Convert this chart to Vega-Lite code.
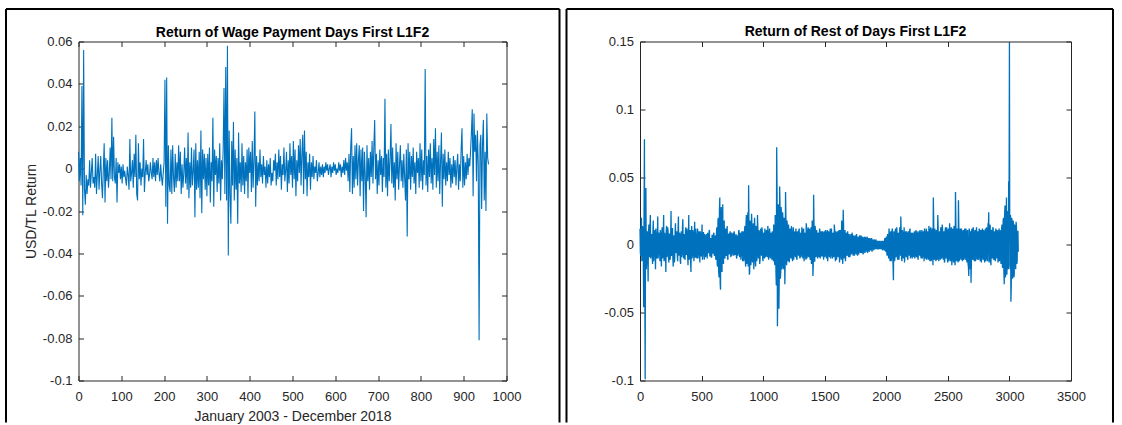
{
"$schema": "https://vega.github.io/schema/vega-lite/v6.json",
"background": "#ffffff",
"padding": {"left": 4.5, "top": 6.5, "right": 0, "bottom": 0},
"config": {
  "view": {"stroke": "#262626", "strokeWidth": 1},
  "font": "Liberation Sans",
  "axis": {"labelFont": "Liberation Sans", "labelFontSize": 13, "labelColor": "#262626", "titleFont": "Liberation Sans", "titleFontSize": 14, "titleFontWeight": "normal", "titleColor": "#262626", "tickColor": "#262626", "tickWidth": 1, "labelOverlap": false, "labelFlush": false, "labelBound": false, "grid": false, "domain": false}
},
"datasets": {
"wage": [
{"i":0,"r":0.008},{"i":2,"r":-0.006},{"i":4,"r":0.005},{"i":6,"r":-0.008},{"i":8,"r":0.039},{"i":10,"r":-0.022},{"i":12,"r":0.056},{"i":14,"r":-0.010},{"i":16,"r":-0.017},{"i":18,"r":-0.003},
{"i":20,"r":-0.012},{"i":22,"r":-0.005},{"i":24,"r":-0.008},{"i":26,"r":0.004},{"i":28,"r":-0.009},{"i":30,"r":-0.002},{"i":32,"r":0.005},{"i":34,"r":-0.007},{"i":36,"r":-0.004},{"i":38,"r":-0.009},
{"i":40,"r":0.007},{"i":42,"r":-0.012},{"i":44,"r":-0.003},{"i":46,"r":0.006},{"i":48,"r":-0.010},{"i":50,"r":-0.001},{"i":52,"r":0.006},{"i":54,"r":-0.007},{"i":56,"r":-0.014},{"i":58,"r":0.000},
{"i":60,"r":0.012},{"i":62,"r":-0.016},{"i":64,"r":0.005},{"i":66,"r":-0.006},{"i":68,"r":0.004},{"i":70,"r":-0.009},{"i":72,"r":-0.002},{"i":74,"r":0.010},{"i":76,"r":-0.005},{"i":78,"r":0.024},
{"i":80,"r":-0.006},{"i":82,"r":0.015},{"i":84,"r":-0.004},{"i":86,"r":-0.007},{"i":88,"r":0.005},{"i":90,"r":-0.016},{"i":92,"r":0.003},{"i":94,"r":-0.002},{"i":96,"r":0.002},{"i":98,"r":-0.005},
{"i":100,"r":0.001},{"i":102,"r":-0.007},{"i":104,"r":0.002},{"i":106,"r":-0.004},{"i":108,"r":-0.001},{"i":110,"r":-0.005},{"i":112,"r":-0.008},{"i":114,"r":0.001},{"i":116,"r":-0.003},{"i":118,"r":-0.010},
{"i":120,"r":0.014},{"i":122,"r":-0.006},{"i":124,"r":-0.002},{"i":126,"r":0.004},{"i":128,"r":-0.009},{"i":130,"r":0.007},{"i":132,"r":-0.004},{"i":134,"r":0.016},{"i":136,"r":-0.012},{"i":138,"r":-0.015},
{"i":140,"r":0.012},{"i":142,"r":-0.005},{"i":144,"r":0.003},{"i":146,"r":-0.008},{"i":148,"r":0.000},{"i":150,"r":-0.004},{"i":152,"r":0.014},{"i":154,"r":-0.011},{"i":156,"r":-0.002},{"i":158,"r":0.004},
{"i":160,"r":-0.003},{"i":162,"r":0.002},{"i":164,"r":-0.006},{"i":166,"r":-0.003},{"i":168,"r":0.003},{"i":170,"r":-0.002},{"i":172,"r":-0.005},{"i":174,"r":0.005},{"i":176,"r":-0.004},{"i":178,"r":0.003},
{"i":180,"r":-0.006},{"i":182,"r":0.004},{"i":184,"r":-0.003},{"i":186,"r":0.005},{"i":188,"r":-0.002},{"i":190,"r":-0.006},{"i":192,"r":0.002},{"i":194,"r":-0.004},{"i":196,"r":-0.008},{"i":198,"r":-0.002},
{"i":200,"r":0.003},{"i":202,"r":0.042},{"i":204,"r":-0.018},{"i":206,"r":0.043},{"i":208,"r":-0.026},{"i":210,"r":0.011},{"i":212,"r":-0.008},{"i":214,"r":-0.011},{"i":216,"r":0.009},{"i":218,"r":-0.012},
{"i":220,"r":0.011},{"i":222,"r":-0.004},{"i":224,"r":-0.011},{"i":226,"r":0.007},{"i":228,"r":-0.009},{"i":230,"r":0.003},{"i":232,"r":-0.006},{"i":234,"r":0.011},{"i":236,"r":-0.006},{"i":238,"r":0.008},
{"i":240,"r":-0.012},{"i":242,"r":0.002},{"i":244,"r":-0.009},{"i":246,"r":-0.002},{"i":248,"r":0.010},{"i":250,"r":-0.007},{"i":252,"r":0.005},{"i":254,"r":-0.010},{"i":256,"r":0.017},{"i":258,"r":-0.014},
{"i":260,"r":0.003},{"i":262,"r":-0.009},{"i":264,"r":0.010},{"i":266,"r":-0.008},{"i":268,"r":-0.001},{"i":270,"r":0.009},{"i":272,"r":-0.023},{"i":274,"r":0.012},{"i":276,"r":-0.010},{"i":278,"r":0.004},
{"i":280,"r":-0.009},{"i":282,"r":0.008},{"i":284,"r":-0.014},{"i":286,"r":0.018},{"i":288,"r":-0.021},{"i":290,"r":0.009},{"i":292,"r":-0.005},{"i":294,"r":0.007},{"i":296,"r":-0.010},{"i":298,"r":0.005},
{"i":300,"r":-0.013},{"i":302,"r":0.007},{"i":304,"r":-0.008},{"i":306,"r":0.010},{"i":308,"r":-0.016},{"i":310,"r":0.003},{"i":312,"r":-0.006},{"i":314,"r":0.024},{"i":316,"r":-0.018},{"i":318,"r":0.009},
{"i":320,"r":-0.003},{"i":322,"r":0.006},{"i":324,"r":-0.011},{"i":326,"r":0.005},{"i":328,"r":-0.007},{"i":330,"r":0.012},{"i":332,"r":-0.015},{"i":334,"r":0.004},{"i":336,"r":-0.005},{"i":338,"r":0.009},
{"i":340,"r":0.038},{"i":342,"r":-0.012},{"i":344,"r":0.048},{"i":346,"r":-0.015},{"i":348,"r":0.058},{"i":350,"r":-0.041},{"i":352,"r":0.018},{"i":354,"r":-0.012},{"i":356,"r":-0.026},{"i":358,"r":0.013},
{"i":360,"r":-0.008},{"i":362,"r":0.022},{"i":364,"r":-0.015},{"i":366,"r":0.009},{"i":368,"r":-0.010},{"i":370,"r":0.005},{"i":372,"r":-0.026},{"i":374,"r":0.017},{"i":376,"r":-0.007},{"i":378,"r":0.003},
{"i":380,"r":-0.011},{"i":382,"r":0.012},{"i":384,"r":-0.008},{"i":386,"r":0.006},{"i":388,"r":-0.012},{"i":390,"r":0.003},{"i":392,"r":-0.006},{"i":394,"r":0.009},{"i":396,"r":-0.014},{"i":398,"r":0.010},
{"i":400,"r":-0.002},{"i":402,"r":0.008},{"i":404,"r":-0.011},{"i":406,"r":0.013},{"i":408,"r":-0.009},{"i":410,"r":0.004},{"i":412,"r":0.027},{"i":414,"r":-0.018},{"i":416,"r":0.006},{"i":418,"r":-0.008},
{"i":420,"r":0.003},{"i":422,"r":-0.006},{"i":424,"r":0.009},{"i":426,"r":-0.004},{"i":428,"r":0.002},{"i":430,"r":-0.007},{"i":432,"r":0.006},{"i":434,"r":-0.003},{"i":436,"r":0.001},{"i":438,"r":-0.009},
{"i":440,"r":0.004},{"i":442,"r":-0.007},{"i":444,"r":0.002},{"i":446,"r":-0.004},{"i":448,"r":0.005},{"i":450,"r":-0.008},{"i":452,"r":-0.002},{"i":454,"r":-0.006},{"i":456,"r":0.004},{"i":458,"r":-0.001},
{"i":460,"r":0.007},{"i":462,"r":-0.008},{"i":464,"r":0.003},{"i":466,"r":-0.005},{"i":468,"r":0.009},{"i":470,"r":-0.004},{"i":472,"r":0.006},{"i":474,"r":-0.010},{"i":476,"r":0.002},{"i":478,"r":-0.003},
{"i":480,"r":0.010},{"i":482,"r":-0.006},{"i":484,"r":-0.001},{"i":486,"r":0.008},{"i":488,"r":-0.011},{"i":490,"r":0.004},{"i":492,"r":-0.007},{"i":494,"r":0.012},{"i":496,"r":-0.003},{"i":498,"r":0.006},
{"i":500,"r":-0.009},{"i":502,"r":0.013},{"i":504,"r":-0.005},{"i":506,"r":0.009},{"i":508,"r":-0.013},{"i":510,"r":0.004},{"i":512,"r":-0.006},{"i":514,"r":0.011},{"i":516,"r":-0.002},{"i":518,"r":0.014},
{"i":520,"r":-0.008},{"i":522,"r":0.007},{"i":524,"r":0.016},{"i":526,"r":-0.012},{"i":528,"r":0.018},{"i":530,"r":-0.005},{"i":532,"r":0.008},{"i":534,"r":-0.013},{"i":536,"r":0.003},{"i":538,"r":-0.004},
{"i":540,"r":0.007},{"i":542,"r":-0.010},{"i":544,"r":0.003},{"i":546,"r":-0.004},{"i":548,"r":0.006},{"i":550,"r":-0.005},{"i":552,"r":0.001},{"i":554,"r":-0.002},{"i":556,"r":0.004},{"i":558,"r":-0.006},
{"i":560,"r":-0.002},{"i":562,"r":0.003},{"i":564,"r":-0.004},{"i":566,"r":0.001},{"i":568,"r":-0.003},{"i":570,"r":0.002},{"i":572,"r":-0.004},{"i":574,"r":0.001},{"i":576,"r":-0.002},{"i":578,"r":0.003},
{"i":580,"r":-0.001},{"i":582,"r":0.002},{"i":584,"r":-0.003},{"i":586,"r":0.000},{"i":588,"r":0.002},{"i":590,"r":-0.004},{"i":592,"r":0.001},{"i":594,"r":-0.002},{"i":596,"r":0.003},{"i":598,"r":-0.001},
{"i":600,"r":0.002},{"i":602,"r":-0.003},{"i":604,"r":0.000},{"i":606,"r":-0.002},{"i":608,"r":0.003},{"i":610,"r":-0.001},{"i":612,"r":0.002},{"i":614,"r":-0.004},{"i":616,"r":0.001},{"i":618,"r":-0.002},
{"i":620,"r":0.004},{"i":622,"r":-0.003},{"i":624,"r":0.005},{"i":626,"r":-0.001},{"i":628,"r":0.003},{"i":630,"r":-0.006},{"i":632,"r":0.007},{"i":634,"r":-0.011},{"i":636,"r":0.010},{"i":638,"r":0.019},
{"i":640,"r":-0.012},{"i":642,"r":0.006},{"i":644,"r":-0.009},{"i":646,"r":0.011},{"i":648,"r":-0.005},{"i":650,"r":0.012},{"i":652,"r":-0.008},{"i":654,"r":0.004},{"i":656,"r":0.011},{"i":658,"r":-0.013},
{"i":660,"r":0.009},{"i":662,"r":-0.006},{"i":664,"r":0.010},{"i":666,"r":-0.020},{"i":668,"r":0.008},{"i":670,"r":-0.003},{"i":672,"r":-0.023},{"i":674,"r":0.011},{"i":676,"r":-0.006},{"i":678,"r":0.005},
{"i":680,"r":-0.010},{"i":682,"r":0.008},{"i":684,"r":-0.004},{"i":686,"r":0.013},{"i":688,"r":-0.007},{"i":690,"r":0.010},{"i":692,"r":0.023},{"i":694,"r":-0.005},{"i":696,"r":0.007},{"i":698,"r":-0.012},
{"i":700,"r":0.004},{"i":702,"r":-0.008},{"i":704,"r":0.009},{"i":706,"r":-0.003},{"i":708,"r":0.006},{"i":710,"r":-0.011},{"i":712,"r":0.005},{"i":714,"r":-0.004},{"i":716,"r":0.033},{"i":718,"r":-0.009},
{"i":720,"r":0.007},{"i":722,"r":-0.013},{"i":724,"r":0.009},{"i":726,"r":-0.006},{"i":728,"r":0.004},{"i":730,"r":0.021},{"i":732,"r":-0.007},{"i":734,"r":0.010},{"i":736,"r":-0.009},{"i":738,"r":0.003},
{"i":740,"r":-0.015},{"i":742,"r":0.012},{"i":744,"r":-0.005},{"i":746,"r":0.008},{"i":748,"r":-0.010},{"i":750,"r":0.002},{"i":752,"r":0.011},{"i":754,"r":-0.006},{"i":756,"r":0.004},{"i":758,"r":-0.009},
{"i":760,"r":0.007},{"i":762,"r":-0.004},{"i":764,"r":-0.015},{"i":766,"r":0.009},{"i":768,"r":-0.032},{"i":770,"r":0.012},{"i":772,"r":-0.005},{"i":774,"r":0.008},{"i":776,"r":-0.010},{"i":778,"r":0.006},
{"i":780,"r":-0.004},{"i":782,"r":0.010},{"i":784,"r":-0.007},{"i":786,"r":0.003},{"i":788,"r":-0.012},{"i":790,"r":0.008},{"i":792,"r":-0.002},{"i":794,"r":0.005},{"i":796,"r":-0.009},{"i":798,"r":0.012},
{"i":800,"r":-0.006},{"i":802,"r":0.009},{"i":804,"r":-0.010},{"i":806,"r":0.004},{"i":808,"r":-0.003},{"i":810,"r":0.047},{"i":812,"r":-0.008},{"i":814,"r":0.006},{"i":816,"r":-0.011},{"i":818,"r":0.009},
{"i":820,"r":-0.004},{"i":822,"r":0.012},{"i":824,"r":-0.007},{"i":826,"r":0.005},{"i":828,"r":-0.010},{"i":830,"r":0.014},{"i":832,"r":-0.003},{"i":834,"r":0.019},{"i":836,"r":-0.009},{"i":838,"r":0.008},
{"i":840,"r":-0.006},{"i":842,"r":0.011},{"i":844,"r":-0.012},{"i":846,"r":0.004},{"i":848,"r":0.017},{"i":850,"r":-0.018},{"i":852,"r":0.007},{"i":854,"r":-0.005},{"i":856,"r":0.009},{"i":858,"r":-0.008},
{"i":860,"r":0.003},{"i":862,"r":-0.006},{"i":864,"r":0.008},{"i":866,"r":-0.003},{"i":868,"r":0.005},{"i":870,"r":-0.009},{"i":872,"r":0.002},{"i":874,"r":-0.007},{"i":876,"r":0.006},{"i":878,"r":-0.004},
{"i":880,"r":0.004},{"i":882,"r":-0.008},{"i":884,"r":0.001},{"i":886,"r":0.007},{"i":888,"r":-0.010},{"i":890,"r":0.002},{"i":892,"r":-0.006},{"i":894,"r":0.009},{"i":896,"r":0.019},{"i":898,"r":-0.009},
{"i":900,"r":0.006},{"i":902,"r":-0.008},{"i":904,"r":0.003},{"i":906,"r":-0.005},{"i":908,"r":0.007},{"i":910,"r":-0.003},{"i":912,"r":0.005},{"i":914,"r":0.001},{"i":916,"r":0.008},{"i":918,"r":0.017},
{"i":920,"r":0.028},{"i":922,"r":-0.013},{"i":924,"r":0.026},{"i":926,"r":0.008},{"i":928,"r":0.016},{"i":930,"r":-0.006},{"i":932,"r":0.018},{"i":934,"r":0.002},{"i":936,"r":-0.081},{"i":938,"r":0.011},
{"i":940,"r":0.016},{"i":942,"r":-0.019},{"i":944,"r":0.012},{"i":946,"r":0.023},{"i":948,"r":-0.015},{"i":950,"r":0.008},{"i":952,"r":-0.020},{"i":954,"r":0.026},{"i":956,"r":0.005},{"i":958,"r":0.002}
],
"rest": [
{"i":0,"r":0.012},{"i":6,"r":-0.008},{"i":12,"r":0.020},{"i":18,"r":-0.010},{"i":24,"r":0.009},{"i":30,"r":-0.046},{"i":36,"r":0.078},{"i":42,"r":-0.099},{"i":48,"r":0.042},{"i":54,"r":-0.012},
{"i":60,"r":0.010},{"i":66,"r":-0.027},{"i":72,"r":0.015},{"i":78,"r":-0.009},{"i":84,"r":0.022},{"i":90,"r":-0.006},{"i":96,"r":0.008},{"i":102,"r":-0.014},{"i":108,"r":0.018},{"i":114,"r":-0.007},
{"i":120,"r":0.011},{"i":126,"r":-0.018},{"i":132,"r":0.006},{"i":138,"r":-0.010},{"i":144,"r":0.021},{"i":150,"r":-0.005},{"i":156,"r":0.009},{"i":162,"r":-0.012},{"i":168,"r":0.007},{"i":174,"r":-0.016},
{"i":180,"r":0.013},{"i":186,"r":-0.008},{"i":192,"r":0.022},{"i":198,"r":-0.011},{"i":204,"r":0.005},{"i":210,"r":-0.020},{"i":216,"r":0.014},{"i":222,"r":-0.006},{"i":228,"r":0.010},{"i":234,"r":-0.013},
{"i":240,"r":0.008},{"i":246,"r":-0.009},{"i":252,"r":0.025},{"i":258,"r":-0.007},{"i":264,"r":0.012},{"i":270,"r":-0.016},{"i":276,"r":0.006},{"i":282,"r":-0.010},{"i":288,"r":0.016},{"i":294,"r":-0.005},
{"i":300,"r":0.009},{"i":306,"r":-0.012},{"i":312,"r":0.021},{"i":318,"r":-0.008},{"i":324,"r":0.007},{"i":330,"r":-0.014},{"i":336,"r":0.010},{"i":342,"r":-0.006},{"i":348,"r":0.019},{"i":354,"r":-0.010},
{"i":360,"r":0.006},{"i":366,"r":-0.011},{"i":372,"r":0.013},{"i":378,"r":-0.007},{"i":384,"r":0.009},{"i":390,"r":-0.015},{"i":396,"r":0.022},{"i":402,"r":-0.008},{"i":408,"r":0.011},{"i":414,"r":-0.020},
{"i":420,"r":0.014},{"i":426,"r":-0.006},{"i":432,"r":0.008},{"i":438,"r":-0.012},{"i":444,"r":0.017},{"i":450,"r":-0.009},{"i":456,"r":0.006},{"i":462,"r":-0.010},{"i":468,"r":0.012},{"i":474,"r":-0.005},
{"i":480,"r":0.010},{"i":486,"r":-0.013},{"i":492,"r":0.007},{"i":498,"r":-0.008},{"i":504,"r":0.015},{"i":510,"r":-0.006},{"i":516,"r":0.009},{"i":522,"r":-0.011},{"i":528,"r":0.005},{"i":534,"r":-0.007},
{"i":540,"r":0.008},{"i":546,"r":-0.010},{"i":552,"r":0.006},{"i":558,"r":-0.005},{"i":564,"r":0.011},{"i":570,"r":-0.008},{"i":576,"r":0.004},{"i":582,"r":-0.009},{"i":588,"r":0.007},{"i":594,"r":-0.006},
{"i":600,"r":0.009},{"i":606,"r":-0.007},{"i":612,"r":0.005},{"i":618,"r":-0.011},{"i":624,"r":0.013},{"i":630,"r":-0.016},{"i":636,"r":0.020},{"i":642,"r":-0.024},{"i":648,"r":0.035},{"i":654,"r":-0.033},
{"i":660,"r":0.028},{"i":666,"r":-0.020},{"i":672,"r":0.030},{"i":678,"r":-0.014},{"i":684,"r":0.018},{"i":690,"r":-0.010},{"i":696,"r":0.012},{"i":702,"r":-0.008},{"i":708,"r":0.014},{"i":714,"r":-0.011},
{"i":720,"r":0.008},{"i":726,"r":-0.006},{"i":732,"r":0.010},{"i":738,"r":-0.009},{"i":744,"r":0.007},{"i":750,"r":-0.005},{"i":756,"r":0.009},{"i":762,"r":-0.008},{"i":768,"r":0.006},{"i":774,"r":-0.007},
{"i":780,"r":0.008},{"i":786,"r":-0.010},{"i":792,"r":0.006},{"i":798,"r":-0.005},{"i":804,"r":0.011},{"i":810,"r":-0.009},{"i":816,"r":0.007},{"i":822,"r":-0.006},{"i":828,"r":0.010},{"i":834,"r":-0.012},
{"i":840,"r":0.009},{"i":846,"r":-0.008},{"i":852,"r":0.014},{"i":858,"r":-0.016},{"i":864,"r":0.022},{"i":870,"r":-0.012},{"i":876,"r":0.024},{"i":882,"r":0.044},{"i":888,"r":-0.022},{"i":894,"r":0.018},
{"i":900,"r":-0.015},{"i":906,"r":0.023},{"i":912,"r":-0.010},{"i":918,"r":0.012},{"i":924,"r":-0.018},{"i":930,"r":0.020},{"i":936,"r":-0.009},{"i":942,"r":0.014},{"i":948,"r":-0.012},{"i":954,"r":0.022},
{"i":960,"r":-0.008},{"i":966,"r":0.011},{"i":972,"r":-0.014},{"i":978,"r":0.009},{"i":984,"r":-0.006},{"i":990,"r":0.013},{"i":996,"r":-0.010},{"i":1002,"r":0.008},{"i":1008,"r":-0.007},{"i":1014,"r":0.012},
{"i":1020,"r":-0.009},{"i":1026,"r":0.010},{"i":1032,"r":-0.006},{"i":1038,"r":0.014},{"i":1044,"r":-0.011},{"i":1050,"r":0.007},{"i":1056,"r":-0.008},{"i":1062,"r":0.009},{"i":1068,"r":-0.005},{"i":1074,"r":0.010},
{"i":1080,"r":-0.008},{"i":1086,"r":0.015},{"i":1092,"r":-0.012},{"i":1098,"r":0.022},{"i":1104,"r":-0.020},{"i":1110,"r":0.072},{"i":1116,"r":-0.060},{"i":1122,"r":0.030},{"i":1128,"r":-0.047},{"i":1134,"r":0.043},
{"i":1140,"r":-0.025},{"i":1146,"r":0.028},{"i":1152,"r":-0.018},{"i":1158,"r":0.024},{"i":1164,"r":-0.014},{"i":1170,"r":0.020},{"i":1176,"r":-0.029},{"i":1182,"r":0.039},{"i":1188,"r":-0.012},{"i":1194,"r":0.018},
{"i":1200,"r":-0.010},{"i":1206,"r":0.015},{"i":1212,"r":-0.013},{"i":1218,"r":0.011},{"i":1224,"r":-0.008},{"i":1230,"r":0.014},{"i":1236,"r":-0.009},{"i":1242,"r":0.010},{"i":1248,"r":-0.011},{"i":1254,"r":0.008},
{"i":1260,"r":-0.007},{"i":1266,"r":0.012},{"i":1272,"r":-0.010},{"i":1278,"r":0.009},{"i":1284,"r":-0.006},{"i":1290,"r":0.011},{"i":1296,"r":-0.008},{"i":1302,"r":0.007},{"i":1308,"r":-0.009},{"i":1314,"r":0.013},
{"i":1320,"r":-0.007},{"i":1326,"r":0.010},{"i":1332,"r":-0.012},{"i":1338,"r":0.008},{"i":1344,"r":-0.006},{"i":1350,"r":0.016},{"i":1356,"r":-0.010},{"i":1362,"r":0.009},{"i":1368,"r":-0.008},{"i":1374,"r":0.012},
{"i":1380,"r":-0.009},{"i":1386,"r":0.010},{"i":1392,"r":-0.014},{"i":1398,"r":0.018},{"i":1404,"r":-0.023},{"i":1410,"r":0.037},{"i":1416,"r":-0.012},{"i":1422,"r":0.014},{"i":1428,"r":-0.009},{"i":1434,"r":0.011},
{"i":1440,"r":-0.008},{"i":1446,"r":0.009},{"i":1452,"r":-0.006},{"i":1458,"r":0.012},{"i":1464,"r":-0.010},{"i":1470,"r":0.007},{"i":1476,"r":-0.008},{"i":1482,"r":0.010},{"i":1488,"r":-0.005},{"i":1494,"r":0.008},
{"i":1500,"r":-0.009},{"i":1506,"r":0.011},{"i":1512,"r":-0.007},{"i":1518,"r":0.008},{"i":1524,"r":-0.012},{"i":1530,"r":0.009},{"i":1536,"r":-0.006},{"i":1542,"r":0.007},{"i":1548,"r":-0.010},{"i":1554,"r":0.012},
{"i":1560,"r":-0.006},{"i":1566,"r":0.008},{"i":1572,"r":-0.009},{"i":1578,"r":0.015},{"i":1584,"r":-0.007},{"i":1590,"r":0.010},{"i":1596,"r":-0.011},{"i":1602,"r":0.007},{"i":1608,"r":-0.008},{"i":1614,"r":0.009},
{"i":1620,"r":-0.013},{"i":1626,"r":0.011},{"i":1632,"r":-0.006},{"i":1638,"r":0.018},{"i":1644,"r":-0.010},{"i":1650,"r":0.026},{"i":1656,"r":-0.008},{"i":1662,"r":0.009},{"i":1668,"r":-0.012},{"i":1674,"r":0.007},
{"i":1680,"r":-0.007},{"i":1686,"r":0.010},{"i":1692,"r":-0.005},{"i":1698,"r":0.008},{"i":1704,"r":-0.009},{"i":1710,"r":0.006},{"i":1716,"r":-0.007},{"i":1722,"r":0.009},{"i":1728,"r":-0.004},{"i":1734,"r":0.007},
{"i":1740,"r":-0.008},{"i":1746,"r":0.006},{"i":1752,"r":-0.005},{"i":1758,"r":0.008},{"i":1764,"r":-0.006},{"i":1770,"r":0.005},{"i":1776,"r":-0.007},{"i":1782,"r":0.006},{"i":1788,"r":-0.004},{"i":1794,"r":0.007},
{"i":1800,"r":-0.005},{"i":1806,"r":0.006},{"i":1812,"r":-0.007},{"i":1818,"r":0.004},{"i":1824,"r":-0.005},{"i":1830,"r":0.006},{"i":1836,"r":-0.004},{"i":1842,"r":0.005},{"i":1848,"r":-0.006},{"i":1854,"r":0.004},
{"i":1860,"r":-0.004},{"i":1866,"r":0.005},{"i":1872,"r":-0.003},{"i":1878,"r":0.004},{"i":1884,"r":-0.005},{"i":1890,"r":0.003},{"i":1896,"r":-0.003},{"i":1902,"r":0.004},{"i":1908,"r":-0.002},{"i":1914,"r":0.003},
{"i":1920,"r":-0.003},{"i":1926,"r":0.002},{"i":1932,"r":-0.003},{"i":1938,"r":0.003},{"i":1944,"r":-0.002},{"i":1950,"r":0.003},{"i":1956,"r":-0.003},{"i":1962,"r":0.002},{"i":1968,"r":-0.004},{"i":1974,"r":0.003},
{"i":1980,"r":-0.003},{"i":1986,"r":0.004},{"i":1992,"r":-0.004},{"i":1998,"r":0.005},{"i":2004,"r":-0.006},{"i":2010,"r":0.008},{"i":2016,"r":-0.005},{"i":2022,"r":0.012},{"i":2028,"r":-0.009},{"i":2034,"r":0.007},
{"i":2040,"r":-0.012},{"i":2046,"r":0.010},{"i":2052,"r":-0.008},{"i":2058,"r":-0.026},{"i":2064,"r":0.009},{"i":2070,"r":-0.010},{"i":2076,"r":0.012},{"i":2082,"r":-0.007},{"i":2088,"r":0.008},{"i":2094,"r":-0.011},
{"i":2100,"r":0.009},{"i":2106,"r":-0.006},{"i":2112,"r":0.013},{"i":2118,"r":0.021},{"i":2124,"r":-0.010},{"i":2130,"r":0.011},{"i":2136,"r":-0.008},{"i":2142,"r":0.007},{"i":2148,"r":-0.013},{"i":2154,"r":0.009},
{"i":2160,"r":-0.007},{"i":2166,"r":0.010},{"i":2172,"r":-0.009},{"i":2178,"r":0.008},{"i":2184,"r":-0.006},{"i":2190,"r":0.011},{"i":2196,"r":-0.010},{"i":2202,"r":0.007},{"i":2208,"r":-0.008},{"i":2214,"r":0.009},
{"i":2220,"r":-0.005},{"i":2226,"r":0.008},{"i":2232,"r":-0.010},{"i":2238,"r":0.006},{"i":2244,"r":-0.007},{"i":2250,"r":0.010},{"i":2256,"r":-0.009},{"i":2262,"r":0.008},{"i":2268,"r":-0.006},{"i":2274,"r":0.011},
{"i":2280,"r":-0.008},{"i":2286,"r":0.007},{"i":2292,"r":-0.010},{"i":2298,"r":0.009},{"i":2304,"r":-0.006},{"i":2310,"r":0.012},{"i":2316,"r":-0.009},{"i":2322,"r":0.008},{"i":2328,"r":-0.011},{"i":2334,"r":0.010},
{"i":2340,"r":-0.007},{"i":2346,"r":0.014},{"i":2352,"r":-0.009},{"i":2358,"r":0.011},{"i":2364,"r":-0.012},{"i":2370,"r":0.009},{"i":2376,"r":-0.006},{"i":2382,"r":0.035},{"i":2388,"r":-0.010},{"i":2394,"r":0.012},
{"i":2400,"r":-0.008},{"i":2406,"r":0.010},{"i":2412,"r":-0.011},{"i":2418,"r":0.022},{"i":2424,"r":-0.009},{"i":2430,"r":0.008},{"i":2436,"r":-0.007},{"i":2442,"r":0.012},{"i":2448,"r":-0.010},{"i":2454,"r":0.015},
{"i":2460,"r":-0.008},{"i":2466,"r":0.009},{"i":2472,"r":-0.013},{"i":2478,"r":0.011},{"i":2484,"r":-0.007},{"i":2490,"r":0.013},{"i":2496,"r":-0.010},{"i":2502,"r":0.009},{"i":2508,"r":-0.012},{"i":2514,"r":0.016},
{"i":2520,"r":-0.009},{"i":2526,"r":0.011},{"i":2532,"r":-0.015},{"i":2538,"r":0.010},{"i":2544,"r":-0.008},{"i":2550,"r":0.014},{"i":2556,"r":-0.011},{"i":2562,"r":0.039},{"i":2568,"r":-0.009},{"i":2574,"r":0.012},
{"i":2580,"r":-0.010},{"i":2586,"r":0.033},{"i":2592,"r":-0.012},{"i":2598,"r":0.009},{"i":2604,"r":-0.007},{"i":2610,"r":0.012},{"i":2616,"r":-0.009},{"i":2622,"r":0.008},{"i":2628,"r":-0.011},{"i":2634,"r":0.010},
{"i":2640,"r":-0.008},{"i":2646,"r":0.012},{"i":2652,"r":-0.010},{"i":2658,"r":0.009},{"i":2664,"r":-0.014},{"i":2670,"r":-0.023},{"i":2676,"r":0.010},{"i":2682,"r":-0.012},{"i":2688,"r":-0.028},{"i":2694,"r":0.011},
{"i":2700,"r":-0.010},{"i":2706,"r":0.013},{"i":2712,"r":-0.009},{"i":2718,"r":0.008},{"i":2724,"r":-0.012},{"i":2730,"r":0.010},{"i":2736,"r":-0.007},{"i":2742,"r":0.009},{"i":2748,"r":-0.011},{"i":2754,"r":0.012},
{"i":2760,"r":-0.008},{"i":2766,"r":0.010},{"i":2772,"r":-0.013},{"i":2778,"r":0.009},{"i":2784,"r":-0.007},{"i":2790,"r":0.011},{"i":2796,"r":-0.010},{"i":2802,"r":0.008},{"i":2808,"r":-0.012},{"i":2814,"r":0.013},
{"i":2820,"r":-0.009},{"i":2826,"r":0.016},{"i":2832,"r":0.024},{"i":2838,"r":-0.011},{"i":2844,"r":0.014},{"i":2850,"r":-0.015},{"i":2856,"r":0.010},{"i":2862,"r":-0.008},{"i":2868,"r":0.012},{"i":2874,"r":-0.009},
{"i":2880,"r":0.009},{"i":2886,"r":-0.012},{"i":2892,"r":0.010},{"i":2898,"r":-0.007},{"i":2904,"r":0.008},{"i":2910,"r":-0.011},{"i":2916,"r":0.012},{"i":2922,"r":-0.010},{"i":2928,"r":0.009},{"i":2934,"r":-0.013},
{"i":2940,"r":0.015},{"i":2946,"r":-0.017},{"i":2952,"r":0.020},{"i":2958,"r":-0.029},{"i":2964,"r":0.029},{"i":2970,"r":-0.020},{"i":2976,"r":0.035},{"i":2982,"r":-0.014},{"i":2988,"r":0.022},{"i":2994,"r":0.047},
{"i":3000,"r":0.149},{"i":3006,"r":-0.018},{"i":3012,"r":-0.042},{"i":3018,"r":0.020},{"i":3024,"r":-0.025},{"i":3030,"r":0.018},{"i":3036,"r":-0.024},{"i":3042,"r":0.015},{"i":3048,"r":-0.012},{"i":3054,"r":0.017},
{"i":3060,"r":-0.014},{"i":3066,"r":0.010},{"i":3072,"r":-0.005},
{"i":3,"r":-0.006},{"i":9,"r":0.011},{"i":15,"r":-0.012},{"i":21,"r":0.014},{"i":27,"r":-0.009},{"i":33,"r":0.025},{"i":39,"r":-0.030},{"i":45,"r":0.020},{"i":51,"r":-0.018},{"i":57,"r":0.006},
{"i":63,"r":-0.011},{"i":69,"r":0.009},{"i":75,"r":-0.006},{"i":81,"r":0.013},{"i":87,"r":-0.010},{"i":93,"r":0.007},{"i":99,"r":-0.008},{"i":105,"r":0.010},{"i":111,"r":-0.012},{"i":117,"r":0.005},
{"i":123,"r":-0.007},{"i":129,"r":0.012},{"i":135,"r":-0.009},{"i":141,"r":0.006},{"i":147,"r":-0.010},{"i":153,"r":0.008},{"i":159,"r":-0.005},{"i":165,"r":0.011},{"i":171,"r":-0.008},{"i":177,"r":0.009},
{"i":183,"r":-0.010},{"i":189,"r":0.007},{"i":195,"r":-0.012},{"i":201,"r":0.009},{"i":207,"r":-0.006},{"i":213,"r":0.010},{"i":219,"r":-0.009},{"i":225,"r":0.013},{"i":231,"r":-0.007},{"i":237,"r":0.008},
{"i":243,"r":-0.011},{"i":249,"r":0.006},{"i":255,"r":-0.008},{"i":261,"r":0.012},{"i":267,"r":-0.010},{"i":273,"r":0.007},{"i":279,"r":-0.013},{"i":285,"r":0.009},{"i":291,"r":-0.006},{"i":297,"r":0.010},
{"i":303,"r":-0.008},{"i":309,"r":0.011},{"i":315,"r":-0.006},{"i":321,"r":0.009},{"i":327,"r":-0.012},{"i":333,"r":0.007},{"i":339,"r":-0.009},{"i":345,"r":0.013},{"i":351,"r":-0.005},{"i":357,"r":0.008},
{"i":363,"r":-0.009},{"i":369,"r":0.010},{"i":375,"r":-0.007},{"i":381,"r":0.012},{"i":387,"r":-0.008},{"i":393,"r":0.006},{"i":399,"r":-0.011},{"i":405,"r":0.009},{"i":411,"r":-0.013},{"i":417,"r":0.007},
{"i":423,"r":-0.010},{"i":429,"r":0.011},{"i":435,"r":-0.006},{"i":441,"r":0.008},{"i":447,"r":-0.009},{"i":453,"r":0.012},{"i":459,"r":-0.007},{"i":465,"r":0.006},{"i":471,"r":-0.010},{"i":477,"r":0.009},
{"i":483,"r":-0.006},{"i":489,"r":0.010},{"i":495,"r":-0.008},{"i":501,"r":0.007},{"i":507,"r":-0.011},{"i":513,"r":0.009},{"i":519,"r":-0.005},{"i":525,"r":0.008},{"i":531,"r":-0.009},{"i":537,"r":0.006},
{"i":543,"r":-0.007},{"i":549,"r":0.009},{"i":555,"r":-0.006},{"i":561,"r":0.010},{"i":567,"r":-0.008},{"i":573,"r":0.005},{"i":579,"r":-0.009},{"i":585,"r":0.007},{"i":591,"r":-0.006},{"i":597,"r":0.008},
{"i":603,"r":-0.008},{"i":609,"r":0.007},{"i":615,"r":-0.010},{"i":621,"r":0.009},{"i":627,"r":-0.014},{"i":633,"r":0.018},{"i":639,"r":-0.020},{"i":645,"r":0.025},{"i":651,"r":-0.028},{"i":657,"r":0.022},
{"i":663,"r":-0.018},{"i":669,"r":0.016},{"i":675,"r":-0.012},{"i":681,"r":0.014},{"i":687,"r":-0.009},{"i":693,"r":0.011},{"i":699,"r":-0.007},{"i":705,"r":0.009},{"i":711,"r":-0.010},{"i":717,"r":0.008},
{"i":723,"r":-0.007},{"i":729,"r":0.008},{"i":735,"r":-0.006},{"i":741,"r":0.009},{"i":747,"r":-0.008},{"i":753,"r":0.007},{"i":759,"r":-0.006},{"i":765,"r":0.010},{"i":771,"r":-0.007},{"i":777,"r":0.006},
{"i":783,"r":-0.009},{"i":789,"r":0.007},{"i":795,"r":-0.008},{"i":801,"r":0.010},{"i":807,"r":-0.006},{"i":813,"r":0.009},{"i":819,"r":-0.011},{"i":825,"r":0.008},{"i":831,"r":-0.007},{"i":837,"r":0.010},
{"i":843,"r":-0.012},{"i":849,"r":0.011},{"i":855,"r":-0.010},{"i":861,"r":0.016},{"i":867,"r":-0.014},{"i":873,"r":0.018},{"i":879,"r":-0.016},{"i":885,"r":0.012},{"i":891,"r":-0.020},{"i":897,"r":0.014},
{"i":903,"r":-0.012},{"i":909,"r":0.015},{"i":915,"r":-0.013},{"i":921,"r":0.016},{"i":927,"r":-0.011},{"i":933,"r":0.013},{"i":939,"r":-0.016},{"i":945,"r":0.010},{"i":951,"r":-0.009},{"i":957,"r":0.012},
{"i":963,"r":-0.010},{"i":969,"r":0.009},{"i":975,"r":-0.011},{"i":981,"r":0.012},{"i":987,"r":-0.008},{"i":993,"r":0.010},{"i":999,"r":-0.012},{"i":1005,"r":0.009},{"i":1011,"r":-0.010},{"i":1017,"r":0.008},
{"i":1023,"r":-0.008},{"i":1029,"r":0.011},{"i":1035,"r":-0.009},{"i":1041,"r":0.010},{"i":1047,"r":-0.007},{"i":1053,"r":0.012},{"i":1059,"r":-0.010},{"i":1065,"r":0.008},{"i":1071,"r":-0.011},{"i":1077,"r":0.009},
{"i":1083,"r":-0.012},{"i":1089,"r":0.010},{"i":1095,"r":-0.015},{"i":1101,"r":0.018},{"i":1107,"r":-0.030},{"i":1113,"r":0.040},{"i":1119,"r":-0.035},{"i":1125,"r":0.025},{"i":1131,"r":-0.022},{"i":1137,"r":0.030},
{"i":1143,"r":-0.020},{"i":1149,"r":0.022},{"i":1155,"r":-0.016},{"i":1161,"r":0.019},{"i":1167,"r":-0.018},{"i":1173,"r":0.015},{"i":1179,"r":-0.014},{"i":1185,"r":0.020},{"i":1191,"r":-0.015},{"i":1197,"r":0.012},
{"i":1203,"r":-0.012},{"i":1209,"r":0.011},{"i":1215,"r":-0.009},{"i":1221,"r":0.012},{"i":1227,"r":-0.010},{"i":1233,"r":0.008},{"i":1239,"r":-0.012},{"i":1245,"r":0.013},{"i":1251,"r":-0.007},{"i":1257,"r":0.010},
{"i":1263,"r":-0.009},{"i":1269,"r":0.008},{"i":1275,"r":-0.011},{"i":1281,"r":0.010},{"i":1287,"r":-0.008},{"i":1293,"r":0.012},{"i":1299,"r":-0.010},{"i":1305,"r":0.009},{"i":1311,"r":-0.006},{"i":1317,"r":0.011},
{"i":1323,"r":-0.010},{"i":1329,"r":0.012},{"i":1335,"r":-0.008},{"i":1341,"r":0.009},{"i":1347,"r":-0.011},{"i":1353,"r":0.010},{"i":1359,"r":-0.007},{"i":1365,"r":0.013},{"i":1371,"r":-0.009},{"i":1377,"r":0.010},
{"i":1383,"r":-0.011},{"i":1389,"r":0.013},{"i":1395,"r":-0.010},{"i":1401,"r":0.012},{"i":1407,"r":-0.015},{"i":1413,"r":0.016},{"i":1419,"r":-0.012},{"i":1425,"r":0.010},{"i":1431,"r":-0.008},{"i":1437,"r":0.009},
{"i":1443,"r":-0.010},{"i":1449,"r":0.008},{"i":1455,"r":-0.009},{"i":1461,"r":0.011},{"i":1467,"r":-0.007},{"i":1473,"r":0.010},{"i":1479,"r":-0.008},{"i":1485,"r":0.009},{"i":1491,"r":-0.011},{"i":1497,"r":0.010},
{"i":1503,"r":-0.007},{"i":1509,"r":0.009},{"i":1515,"r":-0.010},{"i":1521,"r":0.011},{"i":1527,"r":-0.008},{"i":1533,"r":0.010},{"i":1539,"r":-0.009},{"i":1545,"r":0.012},{"i":1551,"r":-0.007},{"i":1557,"r":0.008},
{"i":1563,"r":-0.010},{"i":1569,"r":0.009},{"i":1575,"r":-0.008},{"i":1581,"r":0.011},{"i":1587,"r":-0.012},{"i":1593,"r":0.009},{"i":1599,"r":-0.007},{"i":1605,"r":0.010},{"i":1611,"r":-0.009},{"i":1617,"r":0.011},
{"i":1623,"r":-0.009},{"i":1629,"r":0.010},{"i":1635,"r":-0.011},{"i":1641,"r":0.012},{"i":1647,"r":-0.014},{"i":1653,"r":0.015},{"i":1659,"r":-0.010},{"i":1665,"r":0.011},{"i":1671,"r":-0.008},{"i":1677,"r":0.009},
{"i":1683,"r":-0.008},{"i":1689,"r":0.007},{"i":1695,"r":-0.009},{"i":1701,"r":0.006},{"i":1707,"r":-0.007},{"i":1713,"r":0.008},{"i":1719,"r":-0.006},{"i":1725,"r":0.007},{"i":1731,"r":-0.008},{"i":1737,"r":0.006},
{"i":1743,"r":-0.006},{"i":1749,"r":0.007},{"i":1755,"r":-0.007},{"i":1761,"r":0.005},{"i":1767,"r":-0.008},{"i":1773,"r":0.006},{"i":1779,"r":-0.005},{"i":1785,"r":0.007},{"i":1791,"r":-0.006},{"i":1797,"r":0.005},
{"i":1803,"r":-0.006},{"i":1809,"r":0.005},{"i":1815,"r":-0.004},{"i":1821,"r":0.006},{"i":1827,"r":-0.006},{"i":1833,"r":0.004},{"i":1839,"r":-0.005},{"i":1845,"r":0.006},{"i":1851,"r":-0.004},{"i":1857,"r":0.005},
{"i":1863,"r":-0.005},{"i":1869,"r":0.004},{"i":1875,"r":-0.004},{"i":1881,"r":0.005},{"i":1887,"r":-0.003},{"i":1893,"r":0.004},{"i":1899,"r":-0.004},{"i":1905,"r":0.003},{"i":1911,"r":-0.003},{"i":1917,"r":0.004},
{"i":1923,"r":-0.002},{"i":1929,"r":0.003},{"i":1935,"r":-0.003},{"i":1941,"r":0.002},{"i":1947,"r":-0.003},{"i":1953,"r":0.002},{"i":1959,"r":-0.002},{"i":1965,"r":0.003},{"i":1971,"r":-0.003},{"i":1977,"r":0.002},
{"i":1983,"r":-0.004},{"i":1989,"r":0.005},{"i":1995,"r":-0.005},{"i":2001,"r":0.006},{"i":2007,"r":-0.008},{"i":2013,"r":0.007},{"i":2019,"r":-0.010},{"i":2025,"r":0.009},{"i":2031,"r":-0.012},{"i":2037,"r":0.010},
{"i":2043,"r":-0.009},{"i":2049,"r":0.012},{"i":2055,"r":-0.015},{"i":2061,"r":0.010},{"i":2067,"r":-0.012},{"i":2073,"r":0.011},{"i":2079,"r":-0.009},{"i":2085,"r":0.013},{"i":2091,"r":-0.010},{"i":2097,"r":0.008},
{"i":2103,"r":-0.011},{"i":2109,"r":0.012},{"i":2115,"r":-0.008},{"i":2121,"r":0.010},{"i":2127,"r":-0.012},{"i":2133,"r":0.009},{"i":2139,"r":-0.010},{"i":2145,"r":0.013},{"i":2151,"r":-0.008},{"i":2157,"r":0.010},
{"i":2163,"r":-0.009},{"i":2169,"r":0.008},{"i":2175,"r":-0.011},{"i":2181,"r":0.010},{"i":2187,"r":-0.008},{"i":2193,"r":0.012},{"i":2199,"r":-0.007},{"i":2205,"r":0.009},{"i":2211,"r":-0.010},{"i":2217,"r":0.007},
{"i":2223,"r":-0.009},{"i":2229,"r":0.010},{"i":2235,"r":-0.008},{"i":2241,"r":0.011},{"i":2247,"r":-0.009},{"i":2253,"r":0.008},{"i":2259,"r":-0.011},{"i":2265,"r":0.010},{"i":2271,"r":-0.008},{"i":2277,"r":0.009},
{"i":2283,"r":-0.010},{"i":2289,"r":0.011},{"i":2295,"r":-0.008},{"i":2301,"r":0.010},{"i":2307,"r":-0.012},{"i":2313,"r":0.009},{"i":2319,"r":-0.010},{"i":2325,"r":0.012},{"i":2331,"r":-0.009},{"i":2337,"r":0.008},
{"i":2343,"r":-0.011},{"i":2349,"r":0.010},{"i":2355,"r":-0.012},{"i":2361,"r":0.013},{"i":2367,"r":-0.010},{"i":2373,"r":0.012},{"i":2379,"r":-0.015},{"i":2385,"r":0.018},{"i":2391,"r":-0.011},{"i":2397,"r":0.010},
{"i":2403,"r":-0.012},{"i":2409,"r":0.011},{"i":2415,"r":-0.010},{"i":2421,"r":0.014},{"i":2427,"r":-0.012},{"i":2433,"r":0.010},{"i":2439,"r":-0.011},{"i":2445,"r":0.013},{"i":2451,"r":-0.009},{"i":2457,"r":0.012},
{"i":2463,"r":-0.011},{"i":2469,"r":0.010},{"i":2475,"r":-0.012},{"i":2481,"r":0.013},{"i":2487,"r":-0.010},{"i":2493,"r":0.011},{"i":2499,"r":-0.013},{"i":2505,"r":0.012},{"i":2511,"r":-0.010},{"i":2517,"r":0.011},
{"i":2523,"r":-0.012},{"i":2529,"r":0.013},{"i":2535,"r":-0.011},{"i":2541,"r":0.012},{"i":2547,"r":-0.013},{"i":2553,"r":0.011},{"i":2559,"r":-0.015},{"i":2565,"r":0.018},{"i":2571,"r":-0.012},{"i":2577,"r":0.010},
{"i":2583,"r":-0.013},{"i":2589,"r":0.015},{"i":2595,"r":-0.010},{"i":2601,"r":0.012},{"i":2607,"r":-0.011},{"i":2613,"r":0.010},{"i":2619,"r":-0.012},{"i":2625,"r":0.011},{"i":2631,"r":-0.009},{"i":2637,"r":0.012},
{"i":2643,"r":-0.011},{"i":2649,"r":0.010},{"i":2655,"r":-0.013},{"i":2661,"r":0.011},{"i":2667,"r":-0.016},{"i":2673,"r":0.012},{"i":2679,"r":-0.018},{"i":2685,"r":0.010},{"i":2691,"r":-0.014},{"i":2697,"r":0.012},
{"i":2703,"r":-0.011},{"i":2709,"r":0.010},{"i":2715,"r":-0.012},{"i":2721,"r":0.011},{"i":2727,"r":-0.010},{"i":2733,"r":0.013},{"i":2739,"r":-0.011},{"i":2745,"r":0.010},{"i":2751,"r":-0.009},{"i":2757,"r":0.011},
{"i":2763,"r":-0.012},{"i":2769,"r":0.011},{"i":2775,"r":-0.010},{"i":2781,"r":0.012},{"i":2787,"r":-0.011},{"i":2793,"r":0.010},{"i":2799,"r":-0.013},{"i":2805,"r":0.012},{"i":2811,"r":-0.010},{"i":2817,"r":0.011},
{"i":2823,"r":-0.012},{"i":2829,"r":0.014},{"i":2835,"r":-0.013},{"i":2841,"r":0.015},{"i":2847,"r":-0.012},{"i":2853,"r":0.011},{"i":2859,"r":-0.010},{"i":2865,"r":0.013},{"i":2871,"r":-0.011},{"i":2877,"r":0.010},
{"i":2883,"r":-0.011},{"i":2889,"r":0.012},{"i":2895,"r":-0.010},{"i":2901,"r":0.011},{"i":2907,"r":-0.013},{"i":2913,"r":0.010},{"i":2919,"r":-0.012},{"i":2925,"r":0.011},{"i":2931,"r":-0.014},{"i":2937,"r":0.013},
{"i":2943,"r":-0.016},{"i":2949,"r":0.018},{"i":2955,"r":-0.020},{"i":2961,"r":0.022},{"i":2967,"r":-0.024},{"i":2973,"r":0.020},{"i":2979,"r":-0.022},{"i":2985,"r":0.025},{"i":2991,"r":-0.018},{"i":2997,"r":0.030},
{"i":3003,"r":-0.015},{"i":3009,"r":0.022},{"i":3015,"r":-0.030},{"i":3021,"r":0.018},{"i":3027,"r":-0.020},{"i":3033,"r":0.016},{"i":3039,"r":-0.022},{"i":3045,"r":0.014},{"i":3051,"r":-0.018},{"i":3057,"r":0.013},
{"i":3063,"r":-0.012},{"i":3069,"r":0.010}
]
},
"spacing": 2.5,
"hconcat": [
{
  "width": 428, "height": 339,
  "title": {"text": "Return of Wage Payment Days First L1F2", "offset": -42.5, "frame": "group", "anchor": "middle", "fontSize": 14, "fontWeight": "bold", "font": "Liberation Sans", "color": "#000000", "baseline": "alphabetic"},
  "resolve": {"axis": {"x": "independent", "y": "independent"}},
  "layer": [
    {"data": {"name": "wage"},
     "mark": {"type": "line", "color": "#0072BD", "strokeWidth": 1.1},
     "encoding": {
       "x": {"field": "i", "type": "quantitative", "scale": {"domain": [0, 1000], "nice": false, "zero": false},
             "axis": {"orient": "bottom", "values": [0,100,200,300,400,500,600,700,800,900,1000], "format": "d", "ticks": false, "labelPadding": 10, "title": "January 2003 - December 2018", "titlePadding": 6}},
       "y": {"field": "r", "type": "quantitative", "scale": {"domain": [-0.1, 0.06], "nice": false, "zero": false},
             "axis": {"orient": "left", "values": [-0.1,-0.08,-0.06,-0.04,-0.02,0,0.02,0.04,0.06], "labelExpr": "'' + datum.value", "ticks": false, "labelPadding": 6.5, "title": "USD/TL Return", "titlePadding": 3.5}}
     }},
    {"data": {"values": [{}]},
     "mark": {"type": "rule", "color": "#000000", "strokeWidth": 2},
     "encoding": {
       "x": {"datum": -169.39, "type": "quantitative", "scale": {"domain": [0, 1000], "nice": false, "zero": false},
             "axis": {"orient": "bottom", "values": [0,100,200,300,400,500,600,700,800,900,1000], "labels": false, "tickSize": -5, "title": null}},
       "y": {"datum": 0.075339, "type": "quantitative", "scale": {"domain": [-0.1, 0.06], "nice": false, "zero": false},
             "axis": {"orient": "left", "values": [-0.1,-0.08,-0.06,-0.04,-0.02,0,0.02,0.04,0.06], "labels": false, "tickSize": -5, "title": null}},
       "y2": {"datum": -0.119823}
     }},
    {"data": {"values": [{}]},
     "mark": {"type": "rule", "color": "#000000", "strokeWidth": 2},
     "encoding": {
       "x": {"datum": -169.39, "type": "quantitative", "scale": {"domain": [0, 1000], "nice": false, "zero": false},
             "axis": {"orient": "top", "values": [0,100,200,300,400,500,600,700,800,900,1000], "labels": false, "tickSize": -5, "title": null}},
       "x2": {"datum": 1123.83},
       "y": {"datum": 0.075339, "type": "quantitative", "scale": {"domain": [-0.1, 0.06], "nice": false, "zero": false},
             "axis": {"orient": "right", "values": [-0.1,-0.08,-0.06,-0.04,-0.02,0,0.02,0.04,0.06], "labels": false, "tickSize": -5, "title": null}}
     }},
    {"data": {"values": [{}]},
     "mark": {"type": "rule", "color": "#000000", "strokeWidth": 2},
     "encoding": {
       "x": {"datum": 1123.83, "type": "quantitative", "scale": {"domain": [0, 1000], "nice": false, "zero": false}, "axis": null},
       "y": {"datum": 0.075339, "type": "quantitative", "scale": {"domain": [-0.1, 0.06], "nice": false, "zero": false}, "axis": null},
       "y2": {"datum": -0.119823}
     }}
  ]
},
{
  "width": 431, "height": 339,
  "title": {"text": "Return of Rest of Days First L1F2", "offset": -42.5, "frame": "group", "anchor": "middle", "fontSize": 14, "fontWeight": "bold", "font": "Liberation Sans", "color": "#000000", "baseline": "alphabetic"},
  "resolve": {"axis": {"x": "independent", "y": "independent"}},
  "layer": [
    {"data": {"name": "rest"},
     "mark": {"type": "line", "color": "#0072BD", "strokeWidth": 1.3},
     "encoding": {
       "x": {"field": "i", "type": "quantitative", "scale": {"domain": [0, 3500], "nice": false, "zero": false},
             "axis": {"orient": "bottom", "values": [0,500,1000,1500,2000,2500,3000,3500], "format": "d", "ticks": false, "labelPadding": 10, "title": null}},
       "y": {"field": "r", "type": "quantitative", "scale": {"domain": [-0.1, 0.15], "nice": false, "zero": false},
             "axis": {"orient": "left", "values": [-0.1,-0.05,0,0.05,0.1,0.15], "labelExpr": "'' + datum.value", "ticks": false, "labelPadding": 6.5, "title": null}}
     }},
    {"data": {"values": [{}]},
     "mark": {"type": "rule", "color": "#000000", "strokeWidth": 2},
     "encoding": {
       "x": {"datum": -596.9, "type": "quantitative", "scale": {"domain": [0, 3500], "nice": false, "zero": false},
             "axis": {"orient": "bottom", "values": [0,500,1000,1500,2000,2500,3000,3500], "labels": false, "tickSize": -5, "title": null}},
       "y": {"datum": 0.173968, "type": "quantitative", "scale": {"domain": [-0.1, 0.15], "nice": false, "zero": false},
             "axis": {"orient": "left", "values": [-0.1,-0.05,0,0.05,0.1,0.15], "labels": false, "tickSize": -5, "title": null}},
       "y2": {"datum": -0.130973}
     }},
    {"data": {"values": [{}]},
     "mark": {"type": "rule", "color": "#000000", "strokeWidth": 2},
     "encoding": {
       "x": {"datum": -596.9, "type": "quantitative", "scale": {"domain": [0, 3500], "nice": false, "zero": false},
             "axis": {"orient": "top", "values": [0,500,1000,1500,2000,2500,3000,3500], "labels": false, "tickSize": -5, "title": null}},
       "x2": {"datum": 3841.0},
       "y": {"datum": 0.173968, "type": "quantitative", "scale": {"domain": [-0.1, 0.15], "nice": false, "zero": false},
             "axis": {"orient": "right", "values": [-0.1,-0.05,0,0.05,0.1,0.15], "labels": false, "tickSize": -5, "title": null}}
     }},
    {"data": {"values": [{}]},
     "mark": {"type": "rule", "color": "#000000", "strokeWidth": 2},
     "encoding": {
       "x": {"datum": 3841.0, "type": "quantitative", "scale": {"domain": [0, 3500], "nice": false, "zero": false}, "axis": null},
       "y": {"datum": 0.173968, "type": "quantitative", "scale": {"domain": [-0.1, 0.15], "nice": false, "zero": false}, "axis": null},
       "y2": {"datum": -0.130973}
     }}
  ]
}
]
}
